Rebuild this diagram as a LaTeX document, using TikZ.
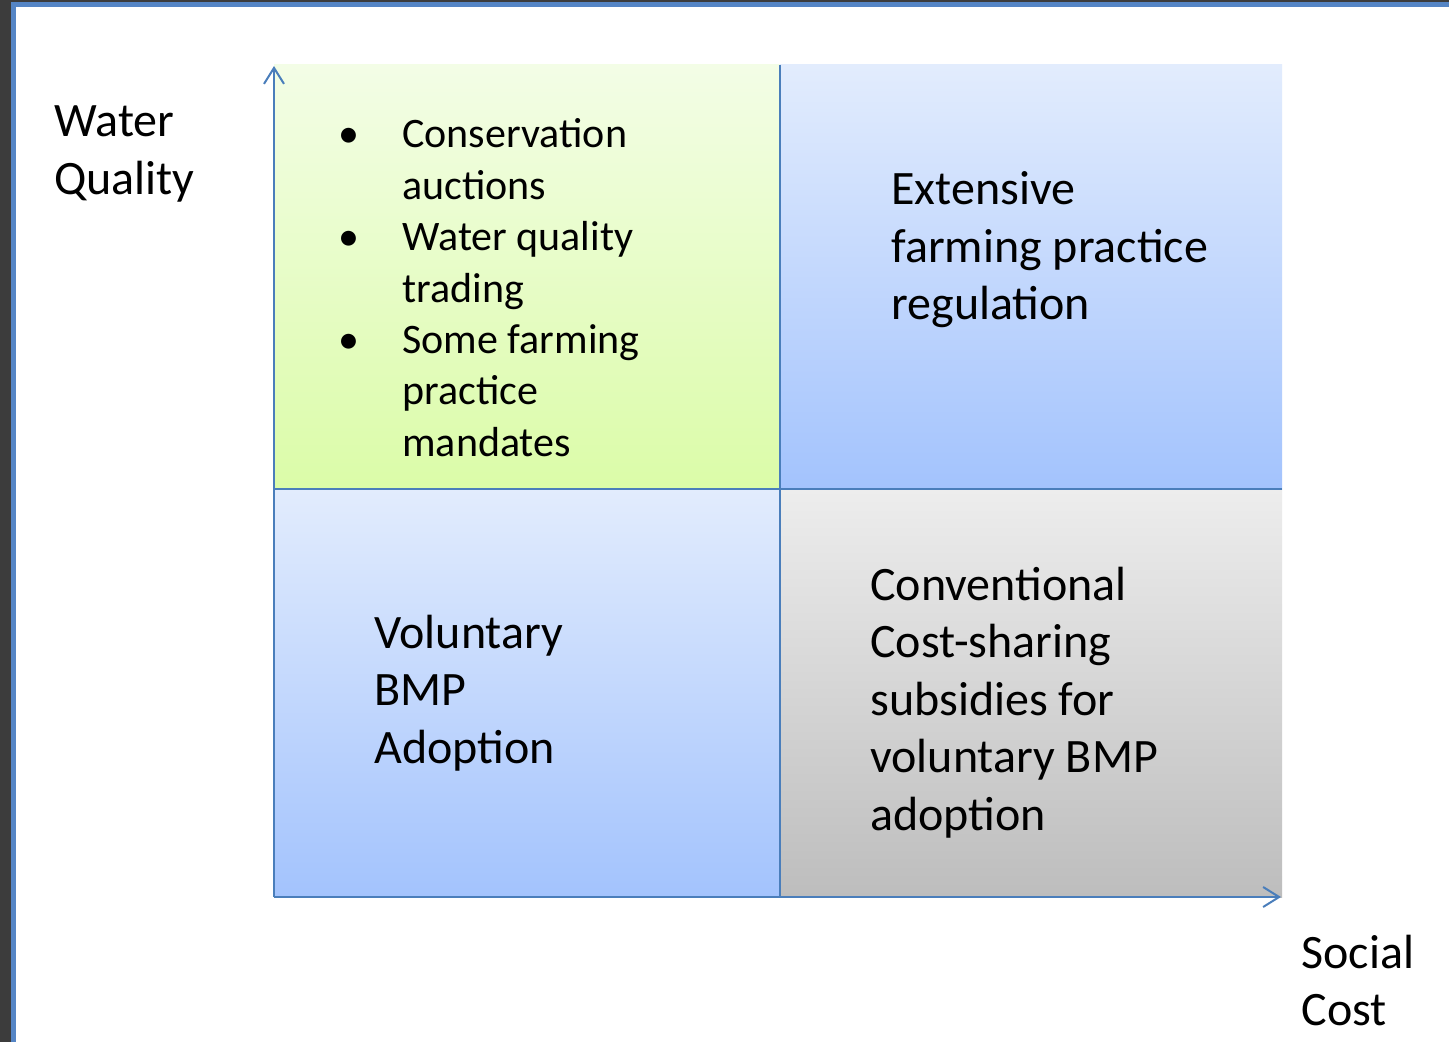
\documentclass[tikz,border=0pt]{standalone}
\usepackage{fontspec}
\setmainfont{Carlito}
\usetikzlibrary{arrows.meta}

\definecolor{slidebg}{HTML}{3C3C3C}
\definecolor{slideframe}{HTML}{5585C5}
\definecolor{axisblue}{HTML}{4A7EBB}
\definecolor{greentop}{HTML}{F3FDE6}
\definecolor{greenbot}{HTML}{DBFCA8}
\definecolor{bluetop}{HTML}{E2ECFD}
\definecolor{bluebot}{HTML}{A3C3FD}
\definecolor{greytop}{HTML}{EDEDED}
\definecolor{greybot}{HTML}{BDBDBD}

\tikzset{
  bigtext/.style={font=\fontsize{24}{28.75}\selectfont, anchor=base west, inner sep=0pt},
  listtext/.style={font=\fontsize{21}{25.7}\selectfont, anchor=base west, inner sep=0pt},
  axis/.style={color=axisblue, line width=1pt},
  quadline/.style={color=axisblue, line width=1pt}
}

\begin{document}
\begin{tikzpicture}[x=0.5pt, y=-0.5pt]
\useasboundingbox (0,0) rectangle (1449,1042);
\fill[slidebg] (0,0) rectangle (1449,1042);
\filldraw[fill=white, draw=slideframe, line width=2.5pt] (13.5,4.5) rectangle (1470,1060);

% the four quadrants
\shade[top color=greentop, bottom color=greenbot] (274,65) rectangle (780,489);
\shade[top color=bluetop, bottom color=bluebot] (780,65) rectangle (1282,489);
\shade[top color=bluetop, bottom color=bluebot] (274,489) rectangle (780,897);
\shade[top color=greytop, bottom color=greybot] (780,489) rectangle (1282,897);
\draw[quadline] (780,65) -- (780,897);
\draw[quadline] (274,489) -- (1282,489);

\coordinate (O) at (274,897);
\coordinate (ytop) at (274,66);
\coordinate (xend) at (1281,897);
\draw[axis, -{Straight Barb[length=8pt, width=10pt]}] (O) -- (ytop);
\draw[axis, -{Straight Barb[length=8pt, width=10pt]}] (O) -- (xend);

\node[bigtext] (quality) at (54,137) {\begin{tabular}[t]{@{}l@{}}Water\\ Quality\end{tabular}};
\node[bigtext] (cost) at (1301,968) {\begin{tabular}[t]{@{}l@{}}Social\\ Cost\end{tabular}};

\node[listtext] (market) at (338,148) {\begin{tabular}[t]{@{}p{32pt}@{}l@{}}
  \textbullet & Conservation\\
              & auctions\\
  \textbullet & Water quality\\
              & trading\\
  \textbullet & Some farming\\
              & practice\\
              & mandates
\end{tabular}};

\node[bigtext] (regulation) at (891,205) {\begin{tabular}[t]{@{}l@{}}Extensive\\ farming practice\\ regulation\end{tabular}};
\node[bigtext] (voluntary) at (374,648) {\begin{tabular}[t]{@{}l@{}}Voluntary\\ BMP\\ Adoption\end{tabular}};
\node[bigtext] (subsidies) at (870,600) {\begin{tabular}[t]{@{}l@{}}Conventional\\ Cost-sharing\\ subsidies for\\ voluntary BMP\\ adoption\end{tabular}};
\end{tikzpicture}
\end{document}
